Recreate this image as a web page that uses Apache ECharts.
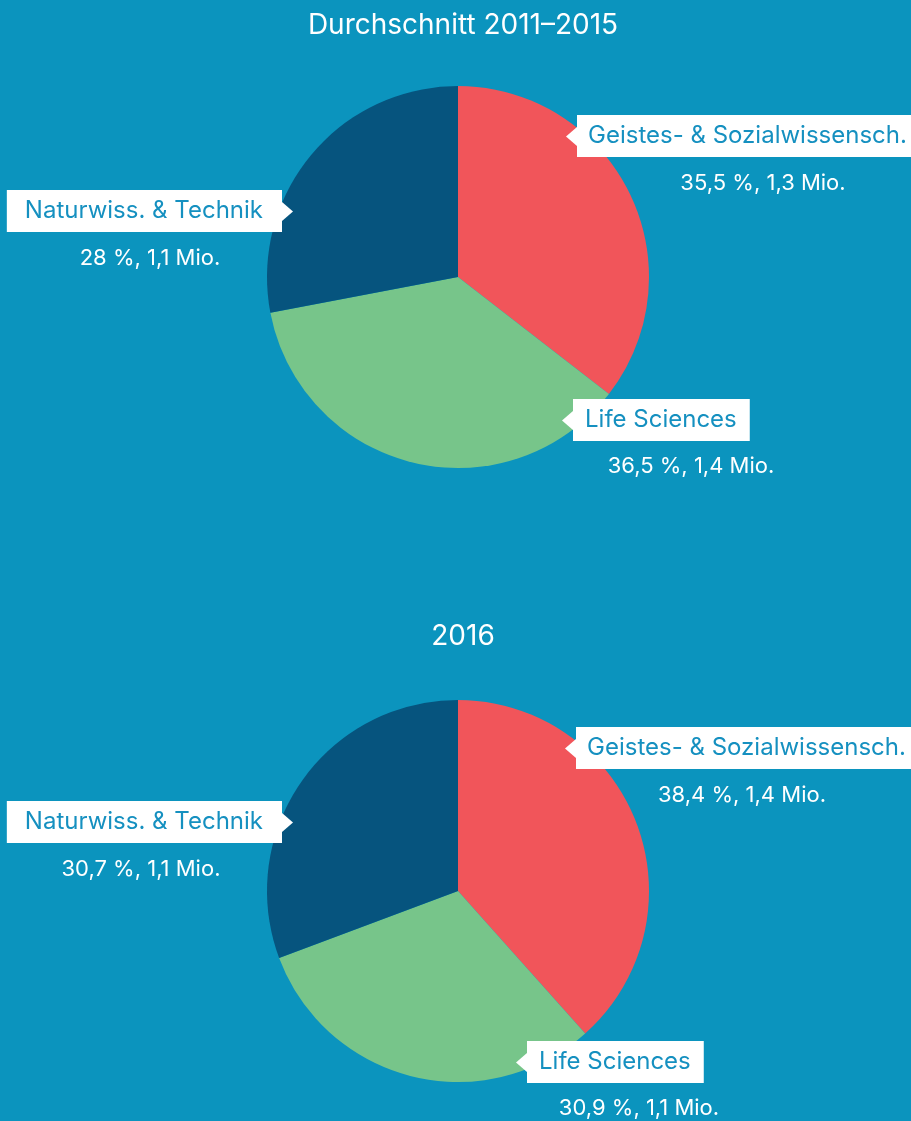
<!DOCTYPE html>
<html>
<head>
<meta charset="utf-8">
<script src="https://cdn.jsdelivr.net/npm/echarts@6/dist/echarts.min.js"></script>
<style>
  html, body { margin: 0; padding: 0; background: #0b94be; }
  #chart { width: 911px; height: 1121px; }
</style>
</head>
<body>
<div id="chart"></div>
<script>
// data
var categories = ['Geistes- & Sozialwissensch.', 'Life Sciences', 'Naturwiss. & Technik'];
var titles = ['Durchschnitt 2011–2015', '2016'];
var shareAvg = [35.5, 36.5, 28];
var share2016 = [38.4, 30.9, 30.7];
var millionsAvg = [1.3, 1.4, 1.1];
var millions2016 = [1.4, 1.1, 1.1];

var colors = ['#f1555a', '#77c58a', '#06547e'];
var font = 'Inter, "Open Sans", sans-serif';

// layout of the two pies and their callouts (box: left/right edge + top, value: centre)
var pies = [
  {
    title: titles[0], titleTop: 7, center: [458, 277], share: shareAvg, mio: millionsAvg,
    boxes: [
      { x: 577, y: 115, side: 'left', pad: [10, 6, 10, 11] },
      { x: 573, y: 399, side: 'left', pad: [10, 13, 10, 12] },
      { x: 282, y: 190, side: 'right', pad: [10, 19, 10, 18] }
    ],
    values: [[763, 183], [691, 466], [150, 258]]
  },
  {
    title: titles[1], titleTop: 618, center: [458, 891], share: share2016, mio: millions2016,
    boxes: [
      { x: 576, y: 727, side: 'left', pad: [10, 6, 10, 11] },
      { x: 527, y: 1041, side: 'left', pad: [10, 13, 10, 12] },
      { x: 282, y: 801, side: 'right', pad: [10, 19, 10, 18] }
    ],
    values: [[742, 795], [639, 1108], [141, 869]]
  }
];

function fmt(n) {
  return String(n).replace('.', ',');
}

var chart = echarts.init(document.getElementById('chart'));

var series = [];
var graphics = [];
var titleList = [];

pies.forEach(function (p) {
  titleList.push({
    text: p.title,
    left: 458,
    top: p.titleTop,
    textAlign: 'center',
    textStyle: { color: '#fff', fontSize: 28, fontWeight: 'normal', fontFamily: font }
  });

  var data = categories.map(function (c, i) {
    return {
      name: c,
      value: p.share[i],
      itemStyle: { color: colors[i] },
      label: { padding: p.boxes[i].pad }
    };
  });

  // pie with the name boxes
  series.push({
    type: 'pie',
    center: p.center,
    radius: 191,
    startAngle: 90,
    clockwise: true,
    avoidLabelOverlap: false,
    silent: true,
    data: data,
    label: {
      show: true,
      position: 'outside',
      formatter: '{b}',
      color: '#1590c0',
      backgroundColor: '#fff',
      fontFamily: font,
      fontSize: 24,
      lineHeight: 22
    },
    labelLine: { show: false },
    labelLayout: function (params) {
      var b = p.boxes[params.dataIndex];
      return { x: b.x, y: b.y, align: b.side === 'left' ? 'left' : 'right', verticalAlign: 'top' };
    }
  });

  // transparent copy carrying the value labels
  series.push({
    type: 'pie',
    center: p.center,
    radius: 191,
    startAngle: 90,
    avoidLabelOverlap: false,
    silent: true,
    itemStyle: { color: 'transparent' },
    data: categories.map(function (c, i) {
      return { name: c, value: p.share[i] };
    }),
    label: {
      show: true,
      position: 'outside',
      formatter: function (params) {
        var i = params.dataIndex;
        return fmt(p.share[i]) + ' %, ' + fmt(p.mio[i]) + ' Mio.';
      },
      color: '#fff',
      fontFamily: font,
      fontSize: 22
    },
    labelLine: { show: false },
    labelLayout: function (params) {
      var v = p.values[params.dataIndex];
      return { x: v[0], y: v[1], align: 'center', verticalAlign: 'middle' };
    }
  });

  // little pointers on the callout boxes
  p.boxes.forEach(function (b) {
    var d = b.side === 'left' ? -11 : 11;
    graphics.push({
      type: 'polygon',
      z: 10,
      shape: { points: [[b.x, b.y + 12], [b.x + d, b.y + 21.5], [b.x, b.y + 31]] },
      style: { fill: '#fff' }
    });
  });
});

chart.setOption({
  backgroundColor: '#0b94be',
  animation: false,
  title: titleList,
  graphic: graphics,
  series: series
});
</script>
</body>
</html>
